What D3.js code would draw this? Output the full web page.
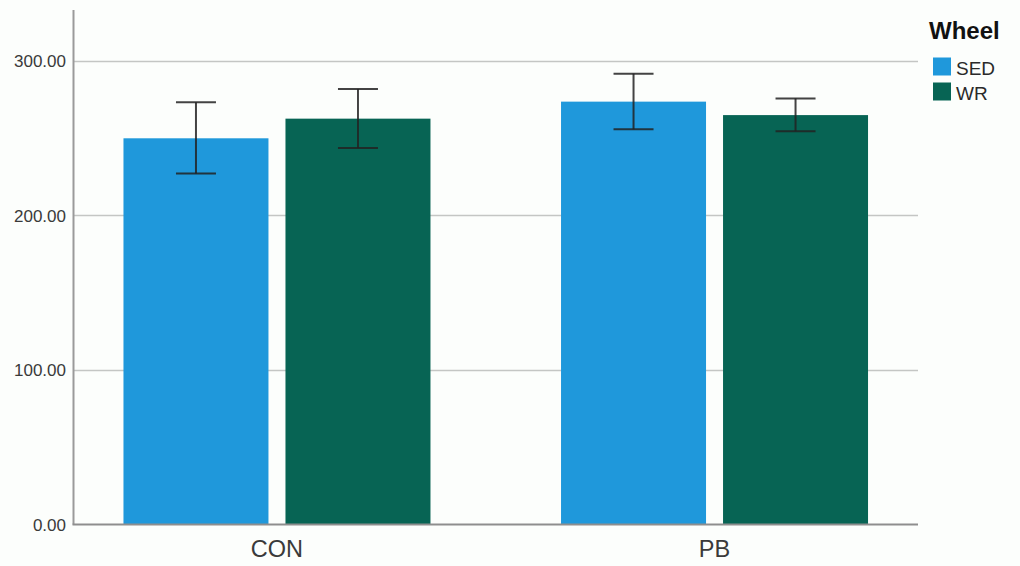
<!DOCTYPE html>
<html><head><meta charset="utf-8">
<script src="https://cdn.jsdelivr.net/npm/d3@7"></script>
<style>body{margin:0;background:#fcfefc;}svg{display:block;font-family:"Liberation Sans",Arial,sans-serif;}</style>
</head><body><svg id="c" width="1020" height="566"></svg>
<script>
const categories = ["CON", "PB"];
const series = ["SED", "WR"];
const means = { SED: [249.7, 273.4], WR: [262.4, 264.7] };
const errLow = { SED: [226.9, 255.5], WR: [243.4, 254.3] };
const errHigh = { SED: [273.0, 291.5], WR: [281.6, 275.5] };
const yTicks = [0, 100, 200, 300];
const tickLabels = ["0.00", "100.00", "200.00", "300.00"];
const colors = { SED: "#1f98db", WR: "#076454" };

const svg = d3.select("#c");
const x0 = 73.5, x1 = 918, yB = 524.5, yT = 10;
const y = d3.scaleLinear().domain([0, 300]).range([yB, 60.5]);
const x = d3.scalePoint().domain(categories).range([x0, x1]).padding(0.465);
const xs = d3.scaleBand().domain(series).range([-153.5, 153.5]).paddingInner(0.105).paddingOuter(0);

svg.append("rect").attr("width", 1020).attr("height", 566).attr("fill", "#fcfefc");

// gridlines
svg.append("g").selectAll("line").data(yTicks.filter(d => d > 0)).join("line")
  .attr("x1", x0).attr("x2", x1).attr("y1", d => Math.round(y(d)) + 0.5).attr("y2", d => Math.round(y(d)) + 0.5)
  .attr("stroke", "#c4c6c4").attr("stroke-width", 1.5);

// bars
const g = svg.append("g");
categories.forEach((c, i) => {
  series.forEach(s => {
    const bx = x(c) + xs(s);
    g.append("rect").attr("x", bx).attr("width", xs.bandwidth())
      .attr("y", y(means[s][i])).attr("height", yB - y(means[s][i]))
      .attr("fill", colors[s]);
    const cx = bx + xs.bandwidth() / 2;
    const e = g.append("g").attr("stroke", "#222").attr("stroke-width", 2).attr("stroke-opacity", 0.85);
    e.append("line").attr("x1", cx).attr("x2", cx).attr("y1", y(errHigh[s][i])).attr("y2", y(errLow[s][i]));
    e.append("line").attr("x1", cx - 20).attr("x2", cx + 20).attr("y1", y(errHigh[s][i])).attr("y2", y(errHigh[s][i]));
    e.append("line").attr("x1", cx - 20).attr("x2", cx + 20).attr("y1", y(errLow[s][i])).attr("y2", y(errLow[s][i]));
  });
});

// axes
svg.append("line").attr("x1", x0).attr("x2", x0).attr("y1", yT).attr("y2", yB).attr("stroke", "#9a9a9a").attr("stroke-width", 2);
svg.append("line").attr("x1", x0 - 1).attr("x2", x1).attr("y1", yB).attr("y2", yB).attr("stroke", "#8e8e8e").attr("stroke-width", 2);

// y tick labels
svg.append("g").selectAll("text").data(yTicks).join("text")
  .attr("x", 66).attr("y", d => y(d) + 6.5).attr("text-anchor", "end")
  .attr("font-size", 17).attr("fill", "#3a3a3a").text((d, i) => tickLabels[i]);

// x labels
svg.append("g").selectAll("text").data(categories).join("text")
  .attr("x", d => x(d)).attr("y", 557).attr("text-anchor", "middle")
  .attr("font-size", 23.5).attr("fill", "#3a3a3a").text(d => d);

// legend
const lg = svg.append("g");
lg.append("text").attr("x", 929).attr("y", 39).attr("font-size", 24).attr("font-weight", "bold").attr("fill", "#111").text("Wheel");
series.forEach((s, i) => {
  lg.append("rect").attr("x", 933).attr("y", 57.5 + i * 25).attr("width", 18).attr("height", 18).attr("fill", colors[s]);
  lg.append("text").attr("x", 956).attr("y", 74.5 + i * 25).attr("font-size", 19).attr("fill", "#2a2a2a").text(s);
});
</script></body></html>
